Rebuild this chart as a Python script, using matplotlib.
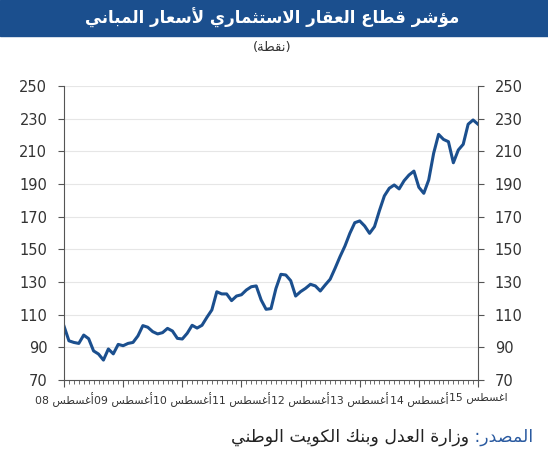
import re
import matplotlib
matplotlib.use("Agg")
import matplotlib.pyplot as plt
from matplotlib.patches import Rectangle

plt.rcParams['font.family'] = ['DejaVu Sans']

# monthly index, Aug 2008 .. Aug 2015 (points)
values = [103, 94, 93, 92.4, 97.5, 95.3, 87.8, 85.9, 82.2, 89, 86, 91.8, 91, 92.4,
          93, 97, 103.3, 102.3, 99.6, 98.2, 99, 101.6, 100, 95.5, 95.1, 98.6, 103.5,
          101.8, 103.5, 108.4, 112.9, 124, 122.7, 122.7, 118.6, 121.4, 122.2, 125.1,
          127.1, 127.6, 119, 113.3, 113.7, 126, 134.7, 134.3, 130.8, 121.4, 124.1,
          126.1, 128.6, 127.6, 124.5, 128.2, 131.7, 138.4, 145.5, 152, 159.8, 166.3,
          167.4, 164.3, 159.8, 163.9, 173.7, 182.7, 187.4, 189.4, 187, 192, 195.5,
          197.9, 188, 184.3, 192.5, 208.8, 220.4, 217.3, 215.9, 203, 210.8, 214.3,
          226.6, 229.2, 226.6]
label_pos = [0, 12, 24, 36, 48, 60, 72, 84]
label_txt = ['أغسطس 08', 'أغسطس 09', 'أغسطس 10', 'أغسطس 11', 'أغسطس 12',
             'أغسطس 13', 'أغسطس 14', 'اغسطس 15']
yticks = [70, 90, 110, 130, 150, 170, 190, 210, 230, 250]

title = 'مؤشر قطاع العقار الاستثماري لأسعار المباني'
unit = '(نقطة)'
src_head = 'المصدر: '
src_body = 'وزارة العدل وبنك الكويت الوطني'

# matplotlib has no arabic shaping -> use presentation forms + reverse
FORMS = {
    'ا': ('\uFE8D', '\uFE8E', None, None), 'أ': ('\uFE83', '\uFE84', None, None),
    'ب': ('\uFE8F', '\uFE90', '\uFE91', '\uFE92'), 'ة': ('\uFE93', '\uFE94', None, None),
    'ت': ('\uFE95', '\uFE96', '\uFE97', '\uFE98'), 'ث': ('\uFE99', '\uFE9A', '\uFE9B', '\uFE9C'),
    'د': ('\uFEA9', '\uFEAA', None, None), 'ر': ('\uFEAD', '\uFEAE', None, None),
    'ز': ('\uFEAF', '\uFEB0', None, None), 'س': ('\uFEB1', '\uFEB2', '\uFEB3', '\uFEB4'),
    'ش': ('\uFEB5', '\uFEB6', '\uFEB7', '\uFEB8'), 'ص': ('\uFEB9', '\uFEBA', '\uFEBB', '\uFEBC'),
    'ط': ('\uFEC1', '\uFEC2', '\uFEC3', '\uFEC4'), 'ع': ('\uFEC9', '\uFECA', '\uFECB', '\uFECC'),
    'غ': ('\uFECD', '\uFECE', '\uFECF', '\uFED0'), 'ق': ('\uFED5', '\uFED6', '\uFED7', '\uFED8'),
    'ك': ('\uFED9', '\uFEDA', '\uFEDB', '\uFEDC'), 'ل': ('\uFEDD', '\uFEDE', '\uFEDF', '\uFEE0'),
    'م': ('\uFEE1', '\uFEE2', '\uFEE3', '\uFEE4'), 'ن': ('\uFEE5', '\uFEE6', '\uFEE7', '\uFEE8'),
    'و': ('\uFEED', '\uFEEE', None, None), 'ؤ': ('\uFE85', '\uFE86', None, None),
    'ي': ('\uFEF1', '\uFEF2', '\uFEF3', '\uFEF4'),
}
LAMALEF = {'ا': ('\uFEFB', '\uFEFC'), 'أ': ('\uFEF7', '\uFEF8')}


def shape(text):
    out = []
    i = 0
    while i < len(text):
        c = text[i]
        if c not in FORMS:
            out.append(c)
            i += 1
            continue
        prev = text[i-1] if i > 0 else None
        jp = prev in FORMS and FORMS[prev][2] is not None
        if c == 'ل' and i+1 < len(text) and text[i+1] in LAMALEF:
            out.append(LAMALEF[text[i+1]][1 if jp else 0])
            i += 2
            continue
        nxt = text[i+1] if i+1 < len(text) else None
        f = FORMS[c]
        jn = f[2] is not None and nxt in FORMS
        if jp and jn:
            out.append(f[3])
        elif jp:
            out.append(f[1])
        elif jn:
            out.append(f[2])
        else:
            out.append(f[0])
        i += 1
    return ''.join(out)


def vis(text):
    s = shape(text)[::-1]
    s = re.sub(r'[0-9]+', lambda m: m.group(0)[::-1], s)
    return s.translate(str.maketrans('()', ')('))


navy = '#1b4f8e'
fig = plt.figure(figsize=(5.48, 4.5), dpi=100)

# title band
fig.patches.append(Rectangle((0, 1 - 36/450), 1, 36/450, transform=fig.transFigure,
                             color=navy, zorder=0))
fig.text(0.497, 1 - 18/450, vis(title), color='white', fontsize=12, fontweight='bold',
         ha='center', va='center')
fig.text(0.497, 1 - 47/450, vis(unit), color='#333333', fontsize=9.5, ha='center', va='center')

ax = fig.add_axes([64/548, 1 - 380/450, 414/548, 294/450])
x = list(range(len(values)))
ax.plot(x, values, color=navy, lw=2.2, solid_joinstyle='round')

ax.set_xlim(0, len(values) - 1)
ax.set_ylim(70, 250)
ax.set_yticks(yticks)
ax.grid(axis='y', color='#e6e6e6', lw=0.8)
ax.set_axisbelow(True)
for s in ['left', 'right', 'bottom']:
    ax.spines[s].set_color('#555555')
ax.spines['top'].set_visible(False)
ax.tick_params(axis='y', right=True, labelright=True, length=4, color='#555555',
               labelsize=10.5, labelcolor='#333333', pad=8)
ax.set_xticks(label_pos)
ax.set_xticklabels([vis(t) for t in label_txt])
ax.set_xticks(x, minor=True)
ax.tick_params(axis='x', which='major', length=5, color='#555555', labelsize=7.8,
               labelcolor='#333333', pad=4)
ax.tick_params(axis='x', which='minor', length=3, color='#555555')

# source line: blue head on the right, black body to its left
head = fig.text(533/548, 1 - 437/450, vis(src_head), color='#2a5aa0', fontsize=12.5,
                ha='right', va='center')
fig.canvas.draw()
bb = head.get_window_extent(fig.canvas.get_renderer())
fig.text(bb.x0 / fig.bbox.width, 1 - 437/450, vis(src_body), color='#222222',
         fontsize=12.5, ha='right', va='center')

fig.savefig('out.png', dpi=100)
